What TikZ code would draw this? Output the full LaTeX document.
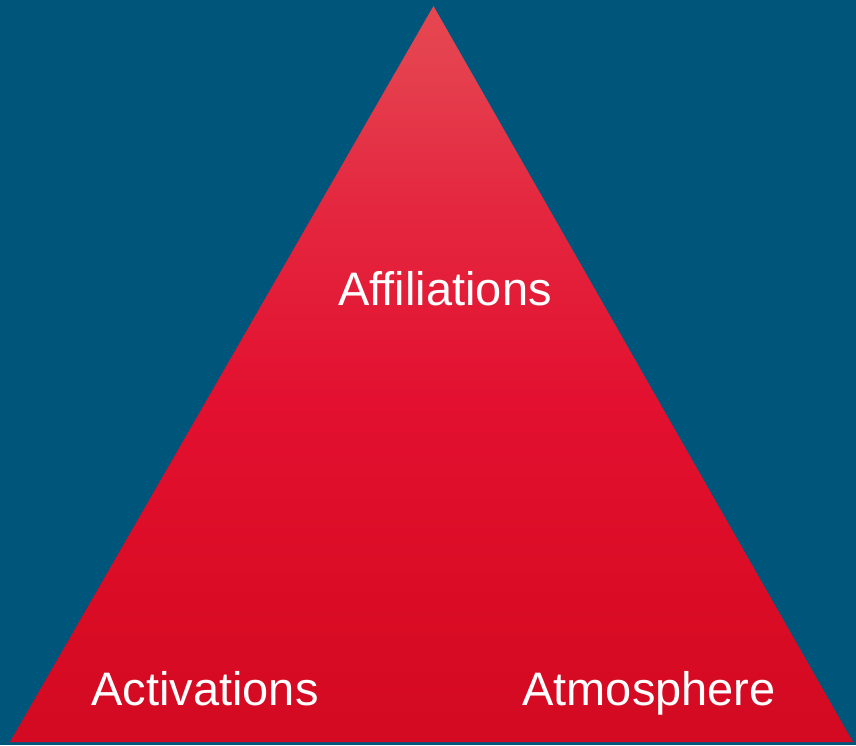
\documentclass[tikz,border=0pt]{standalone}
\usepackage{fontspec}
\setmainfont{Liberation Sans}
\definecolor{bgblue}{HTML}{00567A}
\pgfdeclareverticalshading{pyramidred}{100bp}{%
  rgb(0bp)=(0.827,0.039,0.133);
  rgb(25bp)=(0.827,0.039,0.133);
  rgb(34.6bp)=(0.855,0.047,0.145);
  rgb(48.2bp)=(0.890,0.063,0.188);
  rgb(61.8bp)=(0.894,0.157,0.247);
  rgb(71.3bp)=(0.898,0.255,0.310);
  rgb(75bp)=(0.902,0.278,0.310);
  rgb(100bp)=(0.902,0.278,0.310)}
\tikzset{label text/.style={text=white,anchor=base,inner sep=0pt,font=\fontsize{47}{56}\selectfont}}

\begin{document}
\begin{tikzpicture}[x=1pt,y=-1pt]
\pgfmathsetmacro{\apexx}{433.5}
\pgfmathsetmacro{\basey}{742}
\fill[bgblue] (0,0) rectangle (856,745);
\useasboundingbox (0,0) rectangle (856,745);
\shade[shading=pyramidred] (\apexx,6) -- (853,\basey) -- (10,\basey) -- cycle;
\node[label text] (affil) at (445,305) {Affiliations};
\node[label text] (activ) at (205,705) {Activations};
\node[label text] (atmos) at (649,705) {Atmosphere};
\end{tikzpicture}
\end{document}
